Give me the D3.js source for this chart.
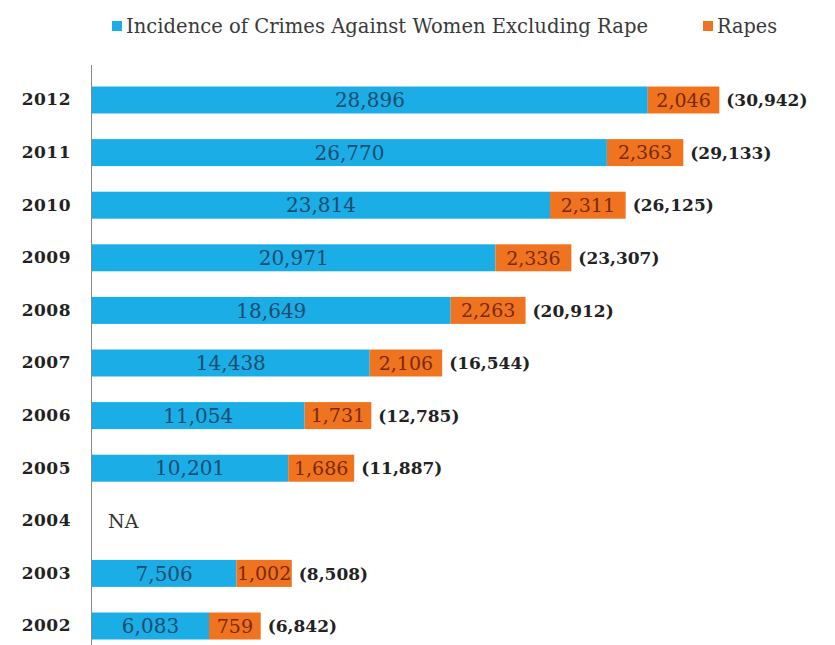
<!DOCTYPE html>
<html>
<head>
<meta charset="utf-8">
<script src="https://cdn.jsdelivr.net/npm/d3@7"></script>
<style>
    body { margin: 0; background: #fff; }
    #chart { width: 835px; height: 645px; }
    .year-axis text { font-family: Georgia, "DejaVu Serif", serif; font-weight: bold; font-size: 17px; fill: #222; letter-spacing: 0.5px; }
    .year-axis path { stroke: #8a8a8a; }
    .legend text { font-family: "DejaVu Serif Condensed", "DejaVu Serif", serif; font-size: 21px; fill: #3a3a3a; }
</style>
</head>
<body>
<div id="chart"></div>
<script>
// chart data, top to bottom
const years = ["2012", "2011", "2010", "2009", "2008", "2007", "2006", "2005", "2004", "2003", "2002"];
const otherCrimes = [28896, 26770, 23814, 20971, 18649, 14438, 11054, 10201, null, 7506, 6083];
const rapes = [2046, 2363, 2311, 2336, 2263, 2106, 1731, 1686, null, 1002, 759];
const totals = [30942, 29133, 26125, 23307, 20912, 16544, 12785, 11887, null, 8508, 6842];
const seriesNames = ["Incidence of Crimes Against Women Excluding Rape", "Rapes"];
const missingLabel = "NA";

class CrimeBars {
    constructor(parentElement) {
        this.parentElement = parentElement;
        this.initVis();
    }

    initVis() {
        let vis = this;

        vis.width = 835;
        vis.height = 645;
        vis.x0 = 92;
        vis.colors = ["#1BADE6", "#F0731F"];

        vis.svg = d3.select("#" + vis.parentElement).append("svg")
            .attr("width", vis.width)
            .attr("height", vis.height);

        // Scales
        vis.x = d3.scaleLinear()
            .domain([0, 30000])
            .range([0, 577]);
        // the orange pieces are drawn wider than true scale in the original
        vis.rapeW = d3.scaleLinear()
            .domain([0, 2400])
            .range([40, 77]);
        vis.y = d3.scaleBand()
            .domain(years)
            .range([73.7, 652.3])
            .paddingInner(0.487)
            .paddingOuter(0.2435);

        vis.wrangleData();
    }

    wrangleData() {
        let vis = this;

        vis.displayData = years.map((yr, i) => ({
            year: yr,
            other: otherCrimes[i],
            rapes: rapes[i],
            total: totals[i]
        }));

        vis.updateVis();
    }

    updateVis() {
        let vis = this;
        let fmt = d3.format(",");
        let rows = vis.displayData.filter(d => d.other != null);

        // Blue segments
        vis.svg.selectAll(".bar-other")
            .data(rows)
            .enter()
            .append("rect")
            .attr("class", "bar-other")
            .attr("x", vis.x0)
            .attr("y", d => vis.y(d.year))
            .attr("width", d => vis.x(d.other))
            .attr("height", vis.y.bandwidth())
            .attr("fill", vis.colors[0]);

        // Orange segments
        vis.svg.selectAll(".bar-rapes")
            .data(rows)
            .enter()
            .append("rect")
            .attr("class", "bar-rapes")
            .attr("x", d => vis.x0 + vis.x(d.other))
            .attr("y", d => vis.y(d.year))
            .attr("width", d => vis.rapeW(d.rapes))
            .attr("height", vis.y.bandwidth())
            .attr("fill", vis.colors[1]);

        let mid = d => vis.y(d.year) + vis.y.bandwidth() / 2;

        vis.svg.selectAll(".lbl-other")
            .data(rows)
            .enter()
            .append("text")
            .attr("class", "lbl-other")
            .attr("x", d => vis.x0 + vis.x(d.other) / 2)
            .attr("y", mid)
            .attr("dy", "0.36em")
            .attr("text-anchor", "middle")
            .style("font-family", "Georgia, 'DejaVu Serif', serif")
            .style("font-size", "20px")
            .style("fill", "#1d4c70")
            .text(d => fmt(d.other));

        vis.svg.selectAll(".lbl-rapes")
            .data(rows)
            .enter()
            .append("text")
            .attr("class", "lbl-rapes")
            .attr("x", d => vis.x0 + vis.x(d.other) + vis.rapeW(d.rapes) / 2)
            .attr("y", mid)
            .attr("dy", "0.36em")
            .attr("text-anchor", "middle")
            .style("font-family", "Georgia, 'DejaVu Serif', serif")
            .style("font-size", "19px")
            .style("fill", "#7a2a0c")
            .text(d => fmt(d.rapes));

        // Totals in brackets
        vis.svg.selectAll(".lbl-total")
            .data(rows)
            .enter()
            .append("text")
            .attr("class", "lbl-total")
            .attr("x", d => vis.x0 + vis.x(d.other) + vis.rapeW(d.rapes) + 7)
            .attr("y", mid)
            .attr("dy", "0.36em")
            .style("font-family", "Georgia, 'DejaVu Serif', serif")
            .style("font-weight", "bold")
            .style("font-size", "17px")
            .style("fill", "#222")
            .text(d => "(" + fmt(d.total) + ")");

        // NA row
        vis.svg.selectAll(".lbl-na")
            .data(vis.displayData.filter(d => d.other == null))
            .enter()
            .append("text")
            .attr("class", "lbl-na")
            .attr("x", vis.x0 + 16)
            .attr("y", mid)
            .attr("dy", "0.36em")
            .style("font-family", "Georgia, 'DejaVu Serif', serif")
            .style("font-size", "19px")
            .style("fill", "#333")
            .text(missingLabel);

        // Year axis
        vis.yAxis = d3.axisLeft(vis.y)
            .tickSize(0)
            .tickSizeOuter(0)
            .tickPadding(20);
        vis.svg.append("g")
            .attr("class", "year-axis")
            .attr("transform", `translate(${vis.x0 - 1}, 0)`)
            .call(vis.yAxis)
            .call(g => g.select(".domain").attr("d", "M0.5,65V645"));

        // Legend
        let legendX = [112, 703];
        let legendW = [522, 60];
        let legend = vis.svg.selectAll(".legend")
            .data(seriesNames)
            .enter()
            .append("g")
            .attr("class", "legend")
            .attr("transform", (d, i) => `translate(${legendX[i]}, 21)`);
        legend.append("rect")
            .attr("width", 10)
            .attr("height", 10)
            .attr("fill", (d, i) => vis.colors[i]);
        legend.append("text")
            .attr("x", 14)
            .attr("y", 12)
            .attr("textLength", (d, i) => legendW[i])
            .attr("lengthAdjust", "spacingAndGlyphs")
            .text(d => d);
    }
}

new CrimeBars("chart");
</script>
</body>
</html>
